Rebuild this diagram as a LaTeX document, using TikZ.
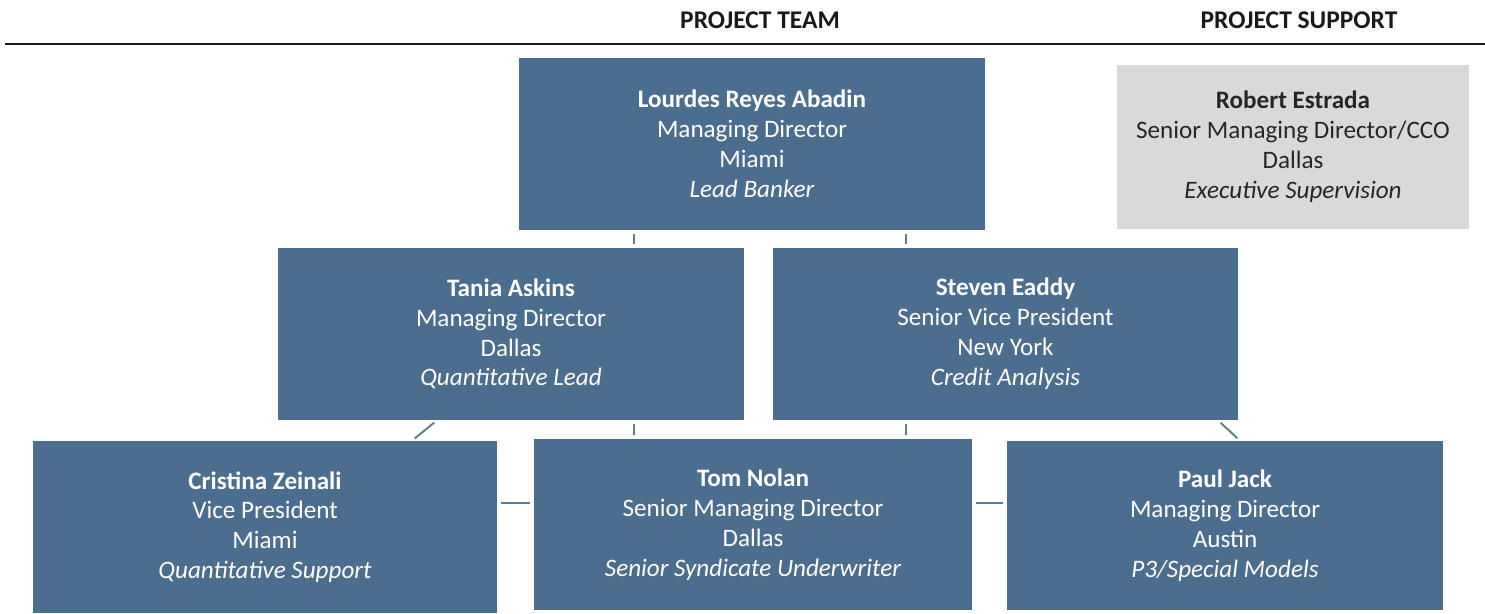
\documentclass[tikz,border=0pt]{standalone}
\usepackage{fontspec}
\setmainfont{Carlito}
\usepackage{tikz}
\usetikzlibrary{backgrounds}

\definecolor{boxblue}{HTML}{4B6E8E}
\definecolor{boxgray}{HTML}{D9D9D9}
\definecolor{linkblue}{HTML}{5F7C96}

\tikzset{
  person/.style={rectangle, fill=boxblue, text=white, inner sep=0pt,
    align=center, font=\fontsize{14.3}{17}\selectfont},
  support/.style={person, fill=boxgray, text=black!85},
  head/.style={font=\fontsize{14.5}{17}\selectfont\bfseries, text=black!90},
  link/.style={draw=linkblue, line width=1.1pt, shorten <=2pt, shorten >=2pt}
}

\begin{document}
\begin{tikzpicture}[x=0.02cm, y=-0.02cm]
\useasboundingbox (0,0) rectangle (1485,613);

% headings
\node[head] (team) at (760,20) {PROJECT TEAM};
\node[head] (supp) at (1299,20) {PROJECT SUPPORT};
\draw[line width=1.6pt, black!90] (5,44) -- (1485,44);

% boxes
\node[person, minimum width=9.32cm, minimum height=3.44cm] (lead) at (752,144)
  {\textbf{Lourdes Reyes Abadin}\\Managing Director\\Miami\\\textit{Lead Banker}};
\node[support, minimum width=7.04cm, minimum height=3.28cm] (estrada) at (1293,147)
  {\textbf{Robert Estrada}\\Senior Managing Director/CCO\\Dallas\\\textit{Executive Supervision}};
\node[person, minimum width=9.32cm, minimum height=3.44cm] (askins) at (511,334)
  {\textbf{Tania Askins}\\Managing Director\\Dallas\\\textit{Quantitative Lead}};
\node[person, minimum width=9.30cm, minimum height=3.44cm] (eaddy) at (1005.5,334)
  {\textbf{Steven Eaddy}\\Senior Vice President\\New York\\\textit{Credit Analysis}};
\node[person, minimum width=9.28cm, minimum height=3.44cm] (zeinali) at (265,527)
  {\textbf{Cristina Zeinali}\\Vice President\\Miami\\\textit{Quantitative Support}};
\node[person, minimum width=8.76cm, minimum height=3.42cm] (nolan) at (753,524.5)
  {\textbf{Tom Nolan}\\Senior Managing Director\\Dallas\\\textit{Senior Syndicate Underwriter}};
\node[person, minimum width=8.72cm, minimum height=3.38cm] (jack) at (1225,525.5)
  {\textbf{Paul Jack}\\Managing Director\\Austin\\\textit{P3/Special Models}};

% reporting lines
\begin{scope}[on background layer]
\draw[link] (lead.south -| 634,0) -- (askins.north -| 634,0);
\draw[link] (lead.south -| 906,0) -- (eaddy.north -| 906,0);
\draw[link] (askins.south -| 634,0) -- (nolan.north -| 634,0);
\draw[link] (eaddy.south -| 906,0) -- (nolan.north -| 906,0);
\draw[link] (askins.south -| 437,0) -- (zeinali.north -| 412,0);
\draw[link] (eaddy.south -| 1218,0) -- (jack.north -| 1240,0);
\draw[link] (zeinali.east |- 0,503) -- (nolan.west |- 0,503);
\draw[link] (nolan.east |- 0,503) -- (jack.west |- 0,503);
\end{scope}
\end{tikzpicture}
\end{document}
